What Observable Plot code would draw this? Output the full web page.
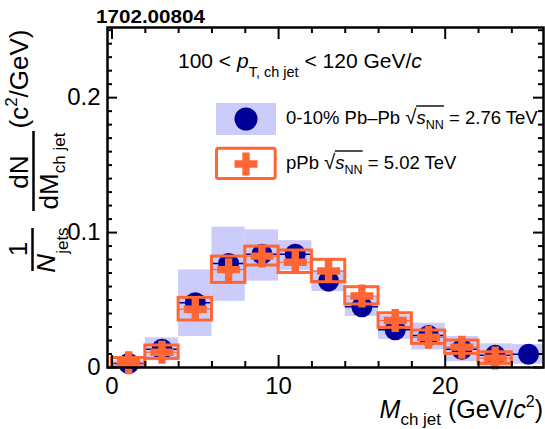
<!DOCTYPE html>
<html><head><meta charset="utf-8">
<script src="https://cdn.jsdelivr.net/npm/d3@7"></script>
<script src="https://cdn.jsdelivr.net/npm/@observablehq/plot@0.6"></script>
<style>
html,body{margin:0;padding:0;background:#fff;}
svg text{font-family:'Liberation Sans',Arial,Helvetica,sans-serif;}
</style>
</head><body><div id="chart"></div>
<script>
// ---- data ----
const binCenters = [1,3,5,7,9,11,13,15,17,19,21,23,25];
const pbpbValues  = [0.003,0.0135,0.048,0.077,0.084,0.084,0.064,0.045,0.028,0.0237,0.0135,0.009,0.0098];
const pbpbSysLow  = [0.0005,0.005,0.023,0.049,0.064,0.072,0.0563,0.0378,0.0207,0.0131,0.0044,0.0,0.0025];
const pbpbSysHigh = [0.0055,0.022,0.0724,0.104,0.102,0.094,0.072,0.0525,0.0385,0.0328,0.023,0.0176,0.017];
const ppbCenters  = [1,3,5,7,9,11,13,15,17,19,21,23];
const ppbValues   = [0.0035,0.0113,0.0432,0.0725,0.0826,0.078,0.0715,0.053,0.0348,0.0224,0.0151,0.007];
const ppbSysLow   = [0.0,0.0064,0.0348,0.0627,0.0756,0.0701,0.0632,0.0467,0.0294,0.0175,0.0101,0.0027];
const ppbSysHigh  = [0.007,0.0163,0.0516,0.0822,0.0896,0.0867,0.0798,0.0595,0.0402,0.0274,0.020,0.0113];
const binHalfWidth = 1;
const xTickLabels = [0,10,20];
const yTickLabels = [0,0.1,0.2];
const xMinorTicks = [0,2,4,6,8,12,14,16,18,22,24];
const yMinorTicks = [0.01,0.02,0.03,0.04,0.05,0.06,0.07,0.08,0.09,0.11,0.12,0.13,0.14,0.15,0.16,0.17,0.18,0.19,0.21,0.22,0.23,0.24,0.25];
const xDomain = [-0.27, 25.9];
const yDomain = [0, 0.252];

// ---- layout ----
const W = 545, H = 429, mL = 107, mR = 2, mT = 27, mB = 62;
const fw = W - mL - mR, fh = H - mT - mB;
const BLUE_BAND = "#ccccfb", NAVY = "#000099", ORANGE = "#ff6633";

const pbpb = binCenters.map((x, i) => ({x, y: pbpbValues[i], lo: pbpbSysLow[i], hi: pbpbSysHigh[i]}));
const ppb  = ppbCenters.map((x, i) => ({x, y: ppbValues[i], lo: ppbSysLow[i], hi: ppbSysHigh[i]}));

const plusSymbol = {
  draw(ctx, size) {
    const r = Math.sqrt(size / Math.PI), t = r * 0.32;
    ctx.moveTo(-r, -t); ctx.lineTo(-t, -t); ctx.lineTo(-t, -r); ctx.lineTo(t, -r);
    ctx.lineTo(t, -t); ctx.lineTo(r, -t); ctx.lineTo(r, t); ctx.lineTo(t, t);
    ctx.lineTo(t, r); ctx.lineTo(-t, r); ctx.lineTo(-t, t); ctx.lineTo(-r, t); ctx.closePath();
  }
};

const x1 = d => d.x - binHalfWidth, x2 = d => d.x + binHalfWidth;

const plot = Plot.plot({
  width: W, height: H, marginLeft: mL, marginRight: mR, marginTop: mT, marginBottom: mB,
  style: {fontFamily: "'Liberation Sans', Arial, Helvetica, sans-serif", background: "white", color: "black"},
  x: {domain: xDomain},
  y: {domain: yDomain},
  marks: [
    Plot.rect(pbpb, {x1, x2, y1: "lo", y2: "hi", fill: BLUE_BAND, clip: true}),
    Plot.ruleY(pbpb, {y: "y", x1, x2, stroke: NAVY, strokeWidth: 1.5, clip: true}),
    Plot.dot(pbpb, {x: "x", y: "y", r: 10.5, fill: NAVY, stroke: "none"}),
    Plot.rect(ppb, {x1, x2, y1: "lo", y2: "hi", fill: "none", stroke: ORANGE, strokeWidth: 3, clip: true}),
    Plot.ruleY(ppb, {y: "y", x1, x2, stroke: ORANGE, strokeWidth: 1.2, clip: true}),
    Plot.dot(ppb, {x: "x", y: "y", r: 11.5, symbol: plusSymbol, fill: ORANGE, stroke: "none"}),
    // inward ticks on all four sides
    Plot.tickX(xMinorTicks, {x: d => d, insetTop: fh - 6, stroke: "black", strokeWidth: 2}),
    Plot.tickX(xTickLabels, {x: d => d, insetTop: fh - 12, stroke: "black", strokeWidth: 2}),
    Plot.tickX(xMinorTicks, {x: d => d, insetBottom: fh - 6, stroke: "black", strokeWidth: 2}),
    Plot.tickX(xTickLabels, {x: d => d, insetBottom: fh - 12, stroke: "black", strokeWidth: 2}),
    Plot.tickY(yMinorTicks, {y: d => d, insetRight: fw - 5, stroke: "black", strokeWidth: 2}),
    Plot.tickY(yTickLabels, {y: d => d, insetRight: fw - 10, stroke: "black", strokeWidth: 2}),
    Plot.tickY(yMinorTicks, {y: d => d, insetLeft: fw - 5, stroke: "black", strokeWidth: 2}),
    Plot.tickY(yTickLabels, {y: d => d, insetLeft: fw - 10, stroke: "black", strokeWidth: 2}),
    Plot.frame({stroke: "black", strokeWidth: 2.5}),
    Plot.axisX(xTickLabels, {tickSize: 0, tickPadding: 9, tickFormat: d => String(d), fontSize: 24, label: null}),
    Plot.axisY(yTickLabels, {tickSize: 0, tickPadding: 7, tickFormat: d => String(d), fontSize: 24, label: null})
  ]
});
document.getElementById("chart").appendChild(plot);

// ---- texts, legend, axis titles ----
const svg = d3.select(plot);
const g = svg.append("g").attr("fill", "black").attr("text-anchor", "start");

function addText(parent, x, y, size, parts, opts = {}) {
  const t = parent.append("text").attr("x", x).attr("y", y).attr("font-size", size)
    .attr("text-anchor", opts.anchor || "start");
  if (opts.weight) t.attr("font-weight", opts.weight);
  if (opts.transform) t.attr("transform", opts.transform);
  for (const p of parts) {
    const s = t.append("tspan").text(p.t);
    if (p.italic) s.attr("font-style", "italic");
    if (p.size) s.attr("font-size", p.size);
    if (p.dy) s.attr("dy", p.dy);
  }
  return t;
}

// arXiv id
addText(g, 96, 23, 19, [{t: "1702.00804"}], {weight: "bold"}).attr("textLength", 109).attr("lengthAdjust", "spacingAndGlyphs");

// kinematic range
addText(g, 178, 68, 21, [
  {t: "100 < "}, {t: "p", italic: true}, {t: "T, ch jet", size: 14.5, dy: 9},
  {t: " < 120 GeV/", dy: -9}, {t: "c", italic: true}
]);

// legend swatches
g.append("rect").attr("x", 216).attr("y", 103).attr("width", 60).attr("height", 32).attr("fill", BLUE_BAND);
g.append("circle").attr("cx", 246).attr("cy", 119).attr("r", 11.5).attr("fill", NAVY);
g.append("rect").attr("x", 216.5).attr("y", 148.2).attr("width", 58.7).attr("height", 30.3).attr("rx", 2)
  .attr("fill", "none").attr("stroke", ORANGE).attr("stroke-width", 3);
g.append("path").attr("transform", "translate(246,164)")
  .attr("d", d3.symbol().type(plusSymbol).size(Math.PI * 11.5 * 11.5)()).attr("fill", ORANGE);

function sqrtText(x, y, pre, post) {
  const t = addText(g, x, y, 18.5, [
    {t: pre}, {t: "\u221A", size: 20.5}, {t: "s", italic: true}, {t: "NN", size: 12.5, dy: 5}, {t: post, dy: -5}
  ]);
  const node = t.node();
  const k = pre.length;
  const a = node.getExtentOfChar(k), b = node.getExtentOfChar(k + 3);
  g.append("line").attr("x1", a.x + a.width - 0.5).attr("x2", b.x + b.width)
    .attr("y1", a.y + 1.5).attr("y2", a.y + 1.5).attr("stroke", "black").attr("stroke-width", 1.4);
}
sqrtText(286, 123.5, "0-10% Pb\u2013Pb ", " = 2.76 TeV");
sqrtText(286, 168.5, "pPb ", " = 5.02 TeV");

// x-axis title
addText(g, 543, 418, 25, [
  {t: "M", italic: true}, {t: "ch jet", size: 17, dy: 7}, {t: " (GeV/", dy: -7},
  {t: "c", italic: true}, {t: "2", size: 16, dy: -11}, {t: ")", dy: 11}
], {anchor: "end"});

// y-axis title (rotated)
const rot = (x, y) => `translate(${x},${y}) rotate(-90)`;
addText(g, 0, 0, 26, [{t: "1"}], {anchor: "middle", transform: rot(27, 249)});
g.append("line").attr("x1", 32.5).attr("x2", 32.5).attr("y1", 228).attr("y2", 271).attr("stroke", "black").attr("stroke-width", 2.5);
addText(g, 0, 0, 26, [{t: "N", italic: true}, {t: "jets", size: 17, dy: 13}], {anchor: "middle", transform: rot(55, 250)});
addText(g, 0, 0, 26, [{t: "dN"}], {anchor: "middle", transform: rot(28, 172)});
g.append("line").attr("x1", 33.5).attr("x2", 33.5).attr("y1", 131).attr("y2", 211).attr("stroke", "black").attr("stroke-width", 2.5);
addText(g, 0, 0, 26, [{t: "dM"}, {t: "ch jet", size: 17, dy: 7}], {anchor: "middle", transform: rot(58, 171)});
addText(g, 0, 0, 26, [{t: "(c"}, {t: "2", size: 17, dy: -11}, {t: "/GeV)", dy: 11}], {anchor: "middle", transform: rot(28, 79)});
</script>
</body></html>
